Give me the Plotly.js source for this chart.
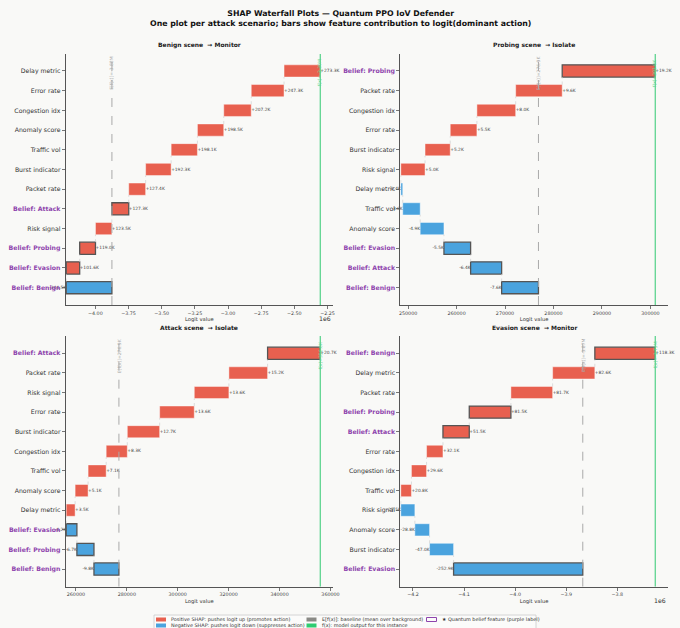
<!DOCTYPE html>
<html><head><meta charset="utf-8">
<script src="https://cdn.plot.ly/plotly-3.0.1.min.js"></script>
<style>html,body{margin:0;padding:0;background:#f9f9f7}</style>
</head><body><div id="chart" style="width:680px;height:628px"></div>
<script>
// ---- Data (values in thousands of logit units, bottom row -> top row) ----
const BENIGN_FEATURES = ['Belief: Benign','Belief: Evasion','Belief: Probing','Risk signal','Belief: Attack','Packet rate','Burst indicator','Traffic vol','Anomaly score','Congestion idx','Error rate','Delay metric'];
const BENIGN_VALUES = [-344.5, 101.6, 119.0, 123.5, 127.3, 127.4, 192.3, 198.1, 198.5, 207.2, 247.3, 273.3];
const BENIGN_BASE = -3875.2;
const BENIGN_TICKS = [-4.00, -3.75, -3.50, -3.25, -3.00, -2.75, -2.50, -2.25]; // x 1e6

const PROBING_FEATURES = ['Belief: Benign','Belief: Attack','Belief: Evasion','Anomaly score','Traffic vol','Delay metric','Risk signal','Burst indicator','Error rate','Congestion idx','Packet rate','Belief: Probing'];
const PROBING_VALUES = [-7.6, -6.4, -5.5, -4.9, -3.6, -0.4, 5.0, 5.2, 5.5, 8.0, 9.6, 19.2];
const PROBING_BASE = 276.9;
const PROBING_TICKS = [250000, 260000, 270000, 280000, 290000, 300000];

const ATTACK_FEATURES = ['Belief: Benign','Belief: Probing','Belief: Evasion','Delay metric','Anomaly score','Traffic vol','Congestion idx','Burst indicator','Error rate','Risk signal','Packet rate','Belief: Attack'];
const ATTACK_VALUES = [-9.8, -6.7, -4.2, 3.5, 5.1, 7.1, 8.3, 12.7, 13.6, 13.6, 15.2, 20.7];
const ATTACK_BASE = 276.9;
const ATTACK_TICKS = [260000, 280000, 300000, 320000, 340000, 360000];

const EVASION_FEATURES = ['Belief: Evasion','Burst indicator','Anomaly score','Risk signal','Traffic vol','Congestion idx','Error rate','Belief: Attack','Belief: Probing','Packet rate','Delay metric','Belief: Benign'];
const EVASION_VALUES = [-252.9, -47.0, -28.8, -27.5, 20.8, 29.6, 32.1, 51.5, 81.5, 81.7, 82.6, 118.3];
const EVASION_BASE = -3867.6;
const EVASION_TICKS = [-4.2, -4.1, -4.0, -3.9, -3.8]; // x 1e6

const TITLES = ['Benign scene  \u2192 Monitor','Probing scene  \u2192 Isolate','Attack scene  \u2192 Isolate','Evasion scene  \u2192 Monitor'];

// ---- Style ----
const W = 680, H = 628;
const RED = '#e8604f', BLUE = '#4aa3de', GREEN = '#5fd490', PURPLE = '#8e44ad', GREY = '#aaaaaa';
const FONT = 'DejaVu Sans, Liberation Sans, sans-serif';
const MINUS = '\u2212';

const panels = [
  {f: BENIGN_FEATURES, v: BENIGN_VALUES, b: BENIGN_BASE, ticks: BENIGN_TICKS, scale: 1e6, dec: 2, px: [65.7, 333], py: [54, 305], yr: [-0.88, 11.86]},
  {f: PROBING_FEATURES, v: PROBING_VALUES, b: PROBING_BASE, ticks: PROBING_TICKS, scale: 1, dec: 0, px: [400.3, 668], py: [54, 305], yr: [-0.88, 11.86]},
  {f: ATTACK_FEATURES, v: ATTACK_VALUES, b: ATTACK_BASE, ticks: ATTACK_TICKS, scale: 1, dec: 0, px: [65.7, 333], py: [336, 586.7], yr: [-0.9, 11.88]},
  {f: EVASION_FEATURES, v: EVASION_VALUES, b: EVASION_BASE, ticks: EVASION_TICKS, scale: 1e6, dec: 1, px: [400.3, 668], py: [336, 586.7], yr: [-0.9, 11.88]}
];

function fmtK(k) { return (Math.abs(k) >= 1000) ? (k/1000).toFixed(2) + 'M' : k.toFixed(1) + 'K'; }
function fmtTick(t, dec) { const s = Math.abs(t).toFixed(dec); return (t < 0 ? MINUS : '') + s; }

const traces = [], annotations = [], shapes = [];
const layout = {
  width: W, height: H, margin: {l: 0, r: 0, t: 0, b: 0},
  paper_bgcolor: '#f9f9f7', plot_bgcolor: '#f9f9f7',
  showlegend: false, font: {family: FONT, color: '#333'},
  annotations, shapes
};

panels.forEach((p, k) => {
  const n = k + 1, xa = 'x' + (n === 1 ? '' : n), ya = 'y' + (n === 1 ? '' : n);
  const xk = 'xaxis' + (n === 1 ? '' : n), yk = 'yaxis' + (n === 1 ? '' : n);
  const idx = p.f.map((_, i) => i);
  const starts = [], ends = [];
  let cum = p.b;
  p.v.forEach(v => { starts.push(cum); cum += v; ends.push(cum); });
  const fx = cum;
  const all = [p.b].concat(ends);
  const mn = Math.min(...all) * 1000, mx = Math.max(...all) * 1000, span = mx - mn;
  const isBelief = p.f.map(s => s.startsWith('Belief'));

  traces.push({
    type: 'bar', orientation: 'h', xaxis: xa, yaxis: ya,
    y: idx, x: p.v.map(v => v * 1000), base: starts.map(s => s * 1000), width: 0.62,
    marker: {
      color: p.v.map(v => v >= 0 ? RED : BLUE),
      line: {color: isBelief.map(b => b ? '#555555' : 'rgba(255,255,255,0.55)'), width: isBelief.map(b => b ? 1.3 : 0.8)}
    },
    hoverinfo: 'skip'
  });
  // connectors
  const cx = [], cy = [];
  for (let i = 0; i < p.v.length - 1; i++) { cx.push(ends[i] * 1000, ends[i] * 1000, null); cy.push(i + 0.31, i + 0.69, null); }
  traces.push({type: 'scatter', mode: 'lines', xaxis: xa, yaxis: ya, x: cx, y: cy, line: {color: '#cfcfcf', width: 0.7, dash: 'dot'}, hoverinfo: 'skip'});
  // value labels
  traces.push({
    type: 'scatter', mode: 'text', xaxis: xa, yaxis: ya, cliponaxis: false,
    x: p.v.map((v, i) => (v >= 0 ? ends[i] : Math.min(starts[i], ends[i])) * 1000),
    y: idx,
    text: p.v.map(v => (v >= 0 ? '+' : '-') + Math.abs(v).toFixed(1) + 'K'),
    textposition: p.v.map(v => v >= 0 ? 'middle right' : 'middle left'),
    textfont: {size: 4.4, color: '#444', family: FONT}, hoverinfo: 'skip'
  });
  // baseline and output lines
  const yTop = p.yr[1];
  traces.push({type: 'scatter', mode: 'lines', xaxis: xa, yaxis: ya, x: [p.b * 1000, p.b * 1000], y: [p.yr[0], yTop], line: {color: GREY, width: 1, dash: 'dash'}, hoverinfo: 'skip'});
  traces.push({type: 'scatter', mode: 'lines', xaxis: xa, yaxis: ya, x: [fx * 1000, fx * 1000], y: [p.yr[0], yTop], line: {color: GREEN, width: 1.3}, hoverinfo: 'skip'});
  annotations.push({xref: xa, yref: ya, x: p.b * 1000, y: 10.9, text: 'E[f(x)]=' + fmtK(p.b), textangle: -90, showarrow: false, font: {size: 4.5, color: '#aaa'}, xanchor: 'center', yanchor: 'middle'});
  annotations.push({xref: xa, yref: ya, x: fx * 1000, y: 10.9, text: 'f(x)=' + fmtK(fx), textangle: -90, showarrow: false, font: {size: 4.5, color: GREEN}, xanchor: 'center', yanchor: 'middle'});

  const dx = [p.px[0] / W, p.px[1] / W], dy = [1 - p.py[1] / H, 1 - p.py[0] / H];
  layout[xk] = {
    domain: dx, anchor: ya, range: [mn - 0.002 * span, mx + 0.05 * span],
    tickmode: 'array', tickvals: p.ticks.map(t => t * p.scale), ticktext: p.ticks.map(t => fmtTick(t, p.dec)),
    tickfont: {size: 4.8, color: '#444'}, ticks: 'outside', ticklen: 3, tickcolor: '#555', tickwidth: 0.8,
    showline: true, linecolor: '#555', linewidth: 1, showgrid: false, zeroline: false,
    title: {text: 'Logit value', font: {size: 5.2, color: '#333'}, standoff: 2}
  };
  layout[yk] = {
    domain: dy, anchor: xa, range: p.yr,
    tickmode: 'array', tickvals: idx,
    ticktext: p.f.map((s, i) => isBelief[i] ? '<b><span style="color:' + PURPLE + '">' + s + '</span></b>' : s),
    tickfont: {size: 6.2, color: '#333'}, ticks: 'outside', ticklen: 3, tickcolor: '#555', tickwidth: 0.8,
    showline: true, linecolor: '#555', linewidth: 1, showgrid: false, zeroline: false
  };
  annotations.push({xref: 'paper', yref: 'paper', x: (dx[0] + dx[1]) / 2, y: dy[1] + 3 / H, text: '<b>' + TITLES[k] + '</b>', showarrow: false, xanchor: 'center', yanchor: 'bottom', font: {size: 6, color: '#222'}});
  if (p.scale === 1e6) {
    annotations.push({xref: 'paper', yref: 'paper', x: dx[1], y: dy[0] - 8 / H, text: '1e6', showarrow: false, xanchor: 'right', yanchor: 'top', font: {size: 6.2, color: '#333'}});
  }
});

// main title
annotations.push({xref: 'paper', yref: 'paper', x: 0.5, y: 1 - 7 / H, yanchor: 'top', showarrow: false,
  text: '<b>SHAP Waterfall Plots \u2014 Quantum PPO IoV Defender</b><br><b>One plot per attack scenario; bars show feature contribution to logit(dominant action)</b>',
  font: {size: 7.8, color: '#111'}});

// legend (drawn)
const LX0 = 154, LX1 = 536, LY0 = 615;
shapes.push({type: 'rect', xref: 'paper', yref: 'paper', x0: LX0 / W, x1: LX1 / W, y0: -0.02, y1: 1 - LY0 / H, line: {color: '#cccccc', width: 0.8}, fillcolor: '#fbfbfa'});
const legendItems = [
  {x: 156, y: 619.5, fill: RED, text: 'Positive SHAP: pushes logit up (promotes action)'},
  {x: 156, y: 625.5, fill: BLUE, text: 'Negative SHAP: pushes logit down (suppresses action)'},
  {x: 306.5, y: 619.5, fill: '#8a8a86', text: 'E[f(x)]: baseline (mean over background)'},
  {x: 306.5, y: 625.5, fill: '#2ecc71', text: 'f(x): model output for this instance'},
  {x: 426.5, y: 619.5, fill: null, text: '\u2605 Quantum belief feature (purple label)'}
];
legendItems.forEach(it => {
  shapes.push({type: 'rect', xref: 'paper', yref: 'paper', x0: it.x / W, x1: (it.x + 10) / W, y0: 1 - (it.y + 2) / H, y1: 1 - (it.y - 2) / H,
    fillcolor: it.fill || 'rgba(0,0,0,0)', line: {color: it.fill ? it.fill : PURPLE, width: it.fill ? 0 : 1}});
  annotations.push({xref: 'paper', yref: 'paper', x: (it.x + 13) / W, y: 1 - it.y / H, text: it.text, showarrow: false, xanchor: 'left', yanchor: 'middle', font: {size: 4.9, color: '#333'}});
});

Plotly.newPlot('chart', traces, layout, {displayModeBar: false, staticPlot: true});
</script></body></html>
